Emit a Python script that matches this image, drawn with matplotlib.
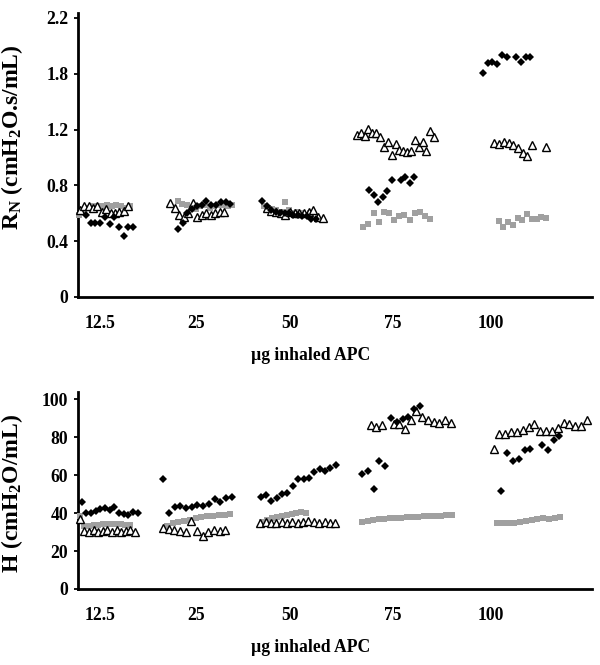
import numpy as np
import matplotlib
matplotlib.use("Agg")
import matplotlib.pyplot as plt
from matplotlib.transforms import blended_transform_factory

plt.rcParams['font.family'] = ['Liberation Serif', 'DejaVu Serif']
plt.rcParams['font.weight'] = 'bold'
plt.rcParams['mathtext.fontset'] = 'custom'
plt.rcParams['mathtext.rm'] = 'Liberation Serif:bold'
plt.rcParams['mathtext.bf'] = 'Liberation Serif:bold'
plt.rcParams['mathtext.it'] = 'Liberation Serif:bold'

nan = np.nan

# ---------------- data ----------------
doses = ["12.5", "25", "50", "75", "100"]
dose_label_x = [4.8, 25.7, 46.1, 68.5, 89.6]      # sample index at group label
xlabel_text = "µg inhaled APC"

# Top panel: R_N (cmH2O.s/mL)
rn_ticks = [0, 0.4, 0.8, 1.2, 1.8, 2.2]
# diamonds (black)
rn_d_12 = [0.59, 0.53, 0.53, 0.53, 0.57, 0.52, 0.57, 0.50, 0.44, 0.50, 0.50]
rn_d_25 = [0.485, 0.53, 0.60, 0.63, 0.65, 0.66, 0.69, 0.66, 0.66, 0.68, 0.68, 0.67]
rn_d_50 = [0.685, 0.65, 0.62, 0.61, 0.60, 0.60, 0.60, 0.59, 0.59, 0.58, 0.58, 0.56, 0.56]
rn_d_75 = [0.767, 0.731, 0.679, 0.715, 0.762, 0.839, nan, 0.836, 0.858, 0.819, 0.862]
rn_d_100 = [1.804, 1.875, 1.887, 1.87, 1.935, 1.918, nan, 1.918, 1.887, 1.922, 1.922]
rn_d_span = [(1.7, 12.0), (21.7, 33.1), (40.0, 51.7), (63.3, 73.1), (88.0, 98.3)]
# open triangles
rn_t_12 = [0.62, 0.65, 0.655, 0.64, 0.65, 0.61, 0.63, 0.60, 0.60, 0.61, 0.615, 0.65]
rn_t_25 = [0.672, 0.636, 0.588, 0.576, 0.60, 0.672, 0.576, 0.588, 0.605, 0.588, 0.60, 0.61, 0.61]
rn_t_50 = [0.636, 0.617, 0.61, 0.60, 0.588, 0.607, 0.60, 0.60, 0.605, 0.61, 0.62, 0.576, 0.565]
rn_t_75 = [1.161, 1.178, 1.154, 1.202, 1.173, 1.178, 1.15, 1.078, 1.113, 1.018, 1.095,
           1.054, 1.047, 1.037, 1.047, 1.126, 1.078, 1.113, 1.047, 1.19, 1.149]
rn_t_100 = [1.102, 1.097, 1.113, 1.102, 1.09, 1.07, 1.034, 1.011, 1.09, nan, nan, 1.078]
rn_t_span = [(0.4, 10.9), (20.0, 31.8), (41.0, 53.2), (60.6, 77.4), (90.5, 101.7)]
# grey squares
rn_g_12 = [0.59, 0.62, 0.64, 0.65, 0.65, 0.65, 0.66, 0.65, 0.66, 0.65, 0.64, 0.65]
rn_g_25 = [0.69, 0.67, 0.66, 0.64, 0.63, 0.65, 0.66, 0.64, 0.65, 0.66, 0.66, 0.65, 0.66]
rn_g_50 = [0.65, 0.64, 0.63, 0.62, 0.61, 0.68, 0.62, 0.60, 0.61, 0.60, 0.59, 0.60]
rn_g_75 = [0.50, 0.52, 0.60, 0.54, 0.61, 0.60, 0.55, 0.58, 0.59, 0.55, 0.60, 0.61, 0.58, 0.56]
rn_g_100 = [0.547, 0.50, 0.54, 0.516, 0.564, 0.552, 0.593, 0.559, 0.559, 0.571, 0.564]
rn_g_span = [(0.3, 11.3), (21.7, 33.5), (40.4, 50.4), (62.0, 76.5), (91.4, 101.7)]

# Bottom panel: H (cmH2O/mL)
h_ticks = [0, 20, 40, 60, 80, 100]
h_d_12 = [45.6, 40.2, 39.8, 41, 41.9, 42.8, 41.6, 43, 40.2, 39.5, 38.9, 40.7, 39.8]
h_d_25 = [57.7, 39.8, 43, 43.7, 42.8, 43.3, 44.2, 43.7, 44.6, 47.4, 45.6, 47.7, 48.3]
h_d_50 = [48.6, 49.5, 46.3, 48, 49.8, 50.7, 54.4, 57.7, 57.9, 58.2, 61.8, 63.2, 62.1, 63.5, 65.3]
h_d_75 = [60.4, 62.1, 52.8, 67.4, 64.5, 89.8, 87.8, 89.3, 90.5, 94.6, 96.5]
h_d_100 = [51.6, 71.5, 67.2, 68.6, 73.3, 73.5, nan, 76, 73.2, 78.4, 80.7]
h_d_span = [(0.8, 13.0), (18.5, 33.4), (39.7, 56.0), (61.7, 74.3), (92.0, 104.6)]
h_t_12 = [37, 30.5, 30, 31, 30, 30.5, 31, 30, 31, 30, 30.5, 31, 30]
h_t_25 = [32, 31.5, 31, 30.5, 30, 36, 30.5, 28, 30, 31, 30.5, 31]
h_t_50 = [35, 35.5, 35, 35, 35.5, 35, 35.5, 35, 35.5, 36, 35.5, 35, 35.5, 34.5, 35]
h_t_75 = [86.3, 85.4, 86.5, nan, 86.7, 87, 84, 88.9, 93.7, 90.4, 88.9, 88, 87.2, 88.9, 87.5]
h_t_100 = [73.5, 81.4, 81.4, 82.8, 82.5, 83.7, 85.1, 86.7, 83.3, 83.3, 83.3, 84.9, 87.2,
           86.7, 85.8, 86, 88.9]
h_t_span = [(0.4, 12.4), (18.5, 32.0), (39.6, 55.9), (63.6, 81.0), (90.3, 110.6)]
h_g_12 = [38.5, 33, 33, 33.5, 33.5, 34, 34, 34, 34, 34, 33.5, 33.5]
h_g_25 = [33, 34.5, 35.4, 35.8, 36.5, 37.5, 38, 38.2, 38.6, 38.8, 38.9, 39.5]
h_g_50 = [35.5, 36.5, 37.5, 38, 38.5, 39, 39.5, 40, 40.5, 40]
h_g_75 = [35.5, 36, 36.5, 37, 37, 37.5, 37.5, 37.5, 38, 38, 38, 38.5, 38.5, 38.5, 38.5, 39, 39]
h_g_100 = [34.5, 34.5, 35, 35, 35.5, 36, 36.5, 37, 37.5, 37, 37.5, 38]
h_g_span = [(0.4, 11.3), (19.3, 33.1), (40.0, 49.6), (61.7, 81.3), (91.1, 104.8)]

# --------------- drawing ---------------
GREY = '#a0a0a0'
FS = 12.7

fig = plt.figure(figsize=(6.0, 6.65), dpi=100)
ax1 = fig.add_axes([0.13, 0.5534, 0.8567, 0.4271])
ax2 = fig.add_axes([0.13, 0.1143, 0.8567, 0.2962])

# non-uniform value axis of the top panel (equal spacing between labelled ticks)
rn_map_v = [-1.0] + rn_ticks + [3.0]
rn_map_p = [-2.5, 0, 1, 2, 3, 4, 5, 7]
def rn_fwd(v):
    return np.interp(v, rn_map_v, rn_map_p)
def rn_inv(p):
    return np.interp(p, rn_map_p, rn_map_v)
ax1.set_yscale('function', functions=(rn_fwd, rn_inv))


def draw(ax, groups, spans, style):
    for vals, (x0, x1) in zip(groups, spans):
        x = np.linspace(x0, x1, len(vals))
        ax.plot(x, vals, linestyle='none', clip_on=False, **style)


sq = dict(marker='s', ms=5.0, mfc=GREY, mec=GREY, mew=0, zorder=3)
tri = dict(marker='^', ms=6.0, mfc='white', mec='black', mew=1.0, zorder=4)
dia = dict(marker='D', ms=4.0, mfc='black', mec='black', mew=0, zorder=5)

draw(ax1, [rn_g_12, rn_g_25, rn_g_50, rn_g_75, rn_g_100], rn_g_span, sq)
draw(ax1, [rn_t_12, rn_t_25, rn_t_50, rn_t_75, rn_t_100], rn_t_span, tri)
draw(ax1, [rn_d_12, rn_d_25, rn_d_50, rn_d_75, rn_d_100], rn_d_span, dia)

draw(ax2, [h_g_12, h_g_25, h_g_50, h_g_75, h_g_100], h_g_span, sq)
draw(ax2, [h_t_12, h_t_25, h_t_50, h_t_75, h_t_100], h_t_span, tri)
draw(ax2, [h_d_12, h_d_25, h_d_50, h_d_75, h_d_100], h_d_span, dia)

ax1.set_ylim(0, 2.236)
ax2.set_ylim(0, 103.7)
ax1.set_yticks(rn_ticks)
ax1.set_yticklabels([f"{t:g}" for t in rn_ticks])
ax2.set_yticks(h_ticks)
ax2.set_yticklabels([f"{t:g}" for t in h_ticks])

for ax in (ax1, ax2):
    ax.set_xlim(0, 111.7)
    for s in ('top', 'right'):
        ax.spines[s].set_visible(False)
    for s in ('left', 'bottom'):
        ax.spines[s].set_linewidth(2.0)
    ax.minorticks_off()
    ax.tick_params(axis='y', direction='out', length=3, width=1.3, pad=4,
                   labelsize=FS)
    ax.set_xticks(dose_label_x)
    ax.set_xticklabels(doses)
    ax.tick_params(axis='x', length=0, pad=13, labelsize=FS)
    for lab in ax.get_xticklabels() + ax.get_yticklabels():
        lab.set_fontweight('bold')
    ax.set_xlabel(xlabel_text, fontsize=FS, fontweight='bold')

ax1.xaxis.set_label_coords(0.453, -0.176)
ax2.xaxis.set_label_coords(0.453, -0.256)

ax1.set_ylabel(r'R$_\mathrm{N}$ (cmH$_\mathrm{2}$O.s/mL)', fontsize=17, fontweight='bold')
ax2.set_ylabel(r'H (cmH$_\mathrm{2}$O/mL)', fontsize=17, fontweight='bold')
ax1.yaxis.set_label_coords(-0.103, 0.563)
ax2.yaxis.set_label_coords(-0.103, 0.487)

fig.savefig('out.png', dpi=100)
